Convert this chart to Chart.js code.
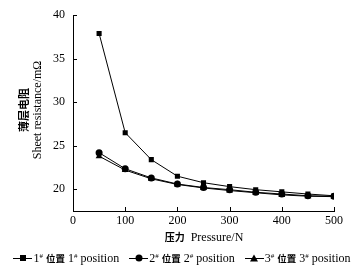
<!DOCTYPE html>
<html>
<head>
<meta charset="utf-8">
<script src="https://cdn.jsdelivr.net/npm/chart.js@4.4.1/dist/chart.umd.min.js"></script>
<style>
  html, body { margin: 0; padding: 0; background: #fff; }
  #wrap { position: relative; width: 364px; height: 277px; font-family: "Liberation Serif", "Noto Sans CJK SC", serif; color: #000; }
  #c { position: absolute; left: 0; top: 0; }
  .zh { font-family: "Noto Sans CJK SC", sans-serif; font-weight: 700; }
  #ytitle { position: absolute; left: 110px; top: 0; width: 0; height: 0; }
  #ytitle div { position: absolute; white-space: nowrap; font-size: 12px; line-height: 14px; transform: translate(-50%, -50%) rotate(-90deg); }
  #ytitle .zh { font-size: 11px; }
  #xtitle { position: absolute; left: 204px; top: 237px; transform: translate(-50%, -50%); font-size: 12px; white-space: nowrap; }
  #xtitle .zh { font-size: 10px; }
  #legend { position: absolute; left: 0; width: 364px; top: 258px; transform: translateY(-50%); text-align: center; font-size: 12px; line-height: 14px; white-space: nowrap; }
  #legend .zh { font-size: 9.5px; }
  .item { display: inline-block; margin: 0 5px; }
  .mk { position: relative; display: inline-block; vertical-align: middle; width: 19px; height: 8px; margin-right: 1px; top: -1px; }
  .mk::before { content: ""; position: absolute; left: 0; right: 0; top: 4px; height: 1px; background: #000; }
  .mk i { position: absolute; left: 50%; top: 50%; transform: translate(-50%, -50%); background: #000; }
  .sq { width: 6px; height: 6px; }
  .ci { width: 7px; height: 7px; border-radius: 50%; }
  .tr { width: 0 !important; height: 0; background: none !important; border-left: 4px solid transparent; border-right: 4px solid transparent; border-bottom: 7px solid #000; }
  sup { font-size: 7px; vertical-align: 4px; line-height: 0; }
</style>
</head>
<body>
<div id="wrap">
  <canvas id="c" width="364" height="277"></canvas>
  <div id="ytitle">
    <div class="zh" style="left:-87px; top:110px;">薄层电阻</div>
    <div style="left:-73px; top:110px;">Sheet resistance/mΩ</div>
  </div>
  <div id="xtitle"><span class="zh">压力</span>&nbsp; Pressure/N</div>
  <div id="legend"><span class="item"><span class="mk"><i class="sq"></i></span>1<sup>#</sup> <span class="zh">位置</span> 1<sup>#</sup> position</span><span class="item"><span class="mk"><i class="ci"></i></span>2<sup>#</sup> <span class="zh">位置</span> 2<sup>#</sup> position</span><span class="item"><span class="mk"><i class="tr"></i></span>3<sup>#</sup> <span class="zh">位置</span> 3<sup>#</sup> position</span></div>
</div>
<script>
// pressure (N)
const pressure = [50, 100, 150, 200, 250, 300, 350, 400, 450, 500];
// sheet resistance (mΩ) per position
const pos1 = [37.9, 26.5, 23.4, 21.5, 20.75, 20.3, 19.95, 19.7, 19.45, 19.25];
const pos2 = [24.2, 22.35, 21.3, 20.6, 20.2, 19.95, 19.65, 19.45, 19.25, 19.2];
const pos3 = [23.8, 22.2, 21.2, 20.55, 20.15, 19.85, 19.6, 19.35, 19.2, 19.15];
const xTicks = [0, 100, 200, 300, 400, 500];
const yTicks = [20, 25, 30, 35, 40];

function pts(vals) {
  return pressure.map((p, i) => ({ x: p, y: vals[i] }));
}

// short tick marks pointing into the plot
const innerTicks = {
  id: 'innerTicks',
  afterDraw(chart) {
    const ctx = chart.ctx;
    const xs = chart.scales.x, ys = chart.scales.y;
    const a = chart.chartArea;
    ctx.save();
    ctx.strokeStyle = '#000';
    ctx.lineWidth = 1;
    ctx.beginPath();
    xTicks.forEach(v => {
      const px = Math.round(xs.getPixelForValue(v)) + 0.5;
      ctx.moveTo(px, a.bottom);
      ctx.lineTo(px, a.bottom - 4);
    });
    yTicks.forEach(v => {
      const py = Math.round(ys.getPixelForValue(v)) + 0.5;
      ctx.moveTo(a.left, py);
      ctx.lineTo(a.left + 4, py);
    });
    ctx.stroke();
    ctx.restore();
  }
};

const base = { borderColor: '#000', backgroundColor: '#000', borderWidth: 1, pointBorderWidth: 0, tension: 0 };

new Chart(document.getElementById('c'), {
  type: 'line',
  data: {
    datasets: [
      Object.assign({ label: '1# 位置 1# position', data: pts(pos1), pointStyle: 'rect', pointRadius: 3.6 }, base),
      Object.assign({ label: '2# 位置 2# position', data: pts(pos2), pointStyle: 'circle', pointRadius: 3.5 }, base),
      Object.assign({ label: '3# 位置 3# position', data: pts(pos3), pointStyle: 'triangle', pointRadius: 4 }, base)
    ]
  },
  options: {
    responsive: false,
    animation: false,
    layout: { padding: { left: 0, right: 30, top: 10, bottom: 46 } },
    plugins: { legend: { display: false }, tooltip: { enabled: false } },
    scales: {
      x: {
        type: 'linear', min: 0, max: 500,
        afterBuildTicks: s => { s.ticks = xTicks.map(v => ({ value: v })); },
        afterFit: s => { s.height = 20; },
        grid: { display: false, drawTicks: false },
        border: { display: true, color: '#000', width: 1 },
        ticks: { color: '#000', padding: 3, maxRotation: 0, font: { family: 'Liberation Serif', size: 12 } }
      },
      y: {
        min: 17.5, max: 40,
        afterBuildTicks: s => { s.ticks = yTicks.map(v => ({ value: v })); },
        afterFit: s => { s.width = 73; },
        grid: { display: false, drawTicks: false },
        border: { display: true, color: '#000', width: 1 },
        ticks: { color: '#000', padding: 8, font: { family: 'Liberation Serif', size: 12 } }
      }
    }
  },
  plugins: [innerTicks]
});
</script>
</body>
</html>
